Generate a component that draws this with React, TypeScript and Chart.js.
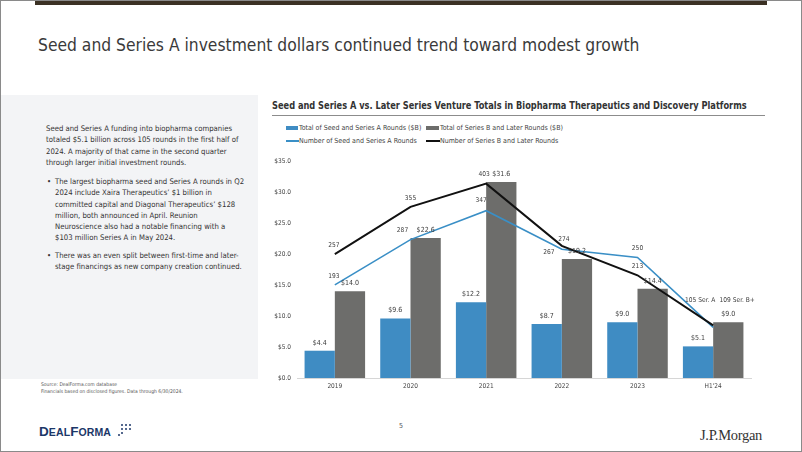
import React, { useEffect, useRef } from "react";
import { Chart, registerables } from "chart.js";

Chart.register(...registerables);

// ---------- data ----------
const categories = ["2019", "2020", "2021", "2022", "2023", "H1'24"];
const seedDollars = [4.4, 9.6, 12.2, 8.7, 9.0, 5.1];
const laterDollars = [14.0, 22.6, 31.6, 19.2, 14.4, 9.0];
const seedRounds = [193, 287, 347, 267, 250, 105];
const laterRounds = [257, 355, 403, 274, 213, 109];
const seedLastSuffix = " Ser. A";
const laterLastSuffix = " Ser. B+";
const dollarAxisMax = 35;
const dollarAxisStep = 5;
const roundsAxisMax = 450;

const seriesNames = [
  "Total of Seed and Series A Rounds ($B)",
  "Total of Series B and Later Rounds ($B)",
  "Number of Seed and Series A Rounds",
  "Number of Series B and Later Rounds",
];

const BLUE = "#3f8cc3";
const GRAY = "#6d6d6b";
const LINE_BLUE = "#3a8fc6";
const BLACK = "#111111";
const NARROW = '"Liberation Sans Narrow", "DejaVu Sans Condensed", "Arial Narrow", sans-serif';

const valueLabels = {
  id: "valueLabels",
  afterDatasetsDraw(chart: any, _args: any, opts: any) {
    const ctx = chart.ctx;
    ctx.save();
    ctx.fillStyle = "#3c3c3c";
    ctx.textAlign = "center";
    ctx.textBaseline = "middle";
    chart.data.datasets.forEach((ds: any, i: number) => {
      const meta = chart.getDatasetMeta(i);
      const n = ds.data.length;
      meta.data.forEach((el: any, j: number) => {
        const v = ds.data[j];
        if (ds.type === "bar") {
          ctx.font = `7px ${NARROW}`;
          ctx.fillText("$" + Number(v).toFixed(1), el.x, el.y - 8);
        } else {
          ctx.font = `6.6px ${NARROW}`;
          const off = (opts.offsets[i] || [])[j] || [0, -9];
          const txt = String(v) + (j === n - 1 ? ds.lastSuffix || "" : "");
          ctx.fillText(txt, el.x + off[0], el.y + off[1]);
        }
      });
    });
    ctx.restore();
  },
};

function ChartCanvas() {
  const ref = useRef<HTMLCanvasElement | null>(null);
  useEffect(() => {
    if (!ref.current) return;
    const chart = new Chart(ref.current, {
      type: "bar",
      data: {
        labels: categories,
        datasets: [
          {
            type: "bar",
            label: seriesNames[0],
            data: seedDollars,
            backgroundColor: BLUE,
            yAxisID: "y",
            order: 2,
            barPercentage: 1,
            categoryPercentage: 0.8,
          } as any,
          {
            type: "bar",
            label: seriesNames[1],
            data: laterDollars,
            backgroundColor: GRAY,
            yAxisID: "y",
            order: 2,
            barPercentage: 1,
            categoryPercentage: 0.8,
          } as any,
          {
            type: "line",
            label: seriesNames[2],
            data: seedRounds,
            borderColor: LINE_BLUE,
            borderWidth: 1.6,
            pointRadius: 0,
            tension: 0,
            yAxisID: "y2",
            order: 1,
            lastSuffix: seedLastSuffix,
          } as any,
          {
            type: "line",
            label: seriesNames[3],
            data: laterRounds,
            borderColor: BLACK,
            borderWidth: 2,
            pointRadius: 0,
            tension: 0,
            yAxisID: "y2",
            order: 0,
            lastSuffix: laterLastSuffix,
          } as any,
        ],
      },
      options: {
        animation: false,
        responsive: false,
        devicePixelRatio: 1,
        layout: { padding: { top: 10, right: 12, left: 0, bottom: 0 } },
        plugins: {
          legend: { display: false },
          tooltip: { enabled: false },
          valueLabels: {
            offsets: {
              2: [[-1, -9], [-8, -9], [-5, -10], [-13, 3], [0, -9], [-13, -27]],
              3: [[-1, -9], [0, -9], [-2, -9], [2, -7], [0, -9], [24, -25]],
            },
          },
        } as any,
        scales: {
          x: {
            grid: { display: false, drawTicks: false },
            border: { display: true, color: "#d6d6d6", width: 1 },
            ticks: { font: { size: 6.5, family: NARROW }, color: "#444", padding: 4 },
            afterFit: (s: any) => {
              s.height = 15;
            },
          },
          y: {
            min: 0,
            max: dollarAxisMax,
            grid: { display: false, drawTicks: false },
            border: { display: false },
            ticks: {
              stepSize: dollarAxisStep,
              font: { size: 6.5, family: NARROW },
              color: "#444",
              padding: 6,
              callback: (v: any) => "$" + Number(v).toFixed(1),
            },
            afterFit: (s: any) => {
              s.width = 34;
            },
          },
          y2: {
            min: 0,
            max: roundsAxisMax,
            display: false,
            position: "right",
          },
        },
      },
      plugins: [valueLabels],
    });
    return () => chart.destroy();
  }, []);
  return (
    <canvas
      ref={ref}
      width={500}
      height={242}
      style={{ position: "absolute", left: 262, top: 150, width: 500, height: 242 }}
    />
  );
}

const abs = (s: React.CSSProperties): React.CSSProperties => ({ position: "absolute", ...s });

export default function App() {
  const panelFont: React.CSSProperties = {
    fontFamily: NARROW,
    fontSize: 7.7,
    color: "#333",
    whiteSpace: "nowrap",
    lineHeight: "11.3px",
  };
  const para = [
    "Seed and Series A funding into biopharma companies",
    "totaled $5.1 billion across 105 rounds in the first half of",
    "2024. A majority of that came in the second quarter",
    "through larger initial investment rounds.",
  ];
  const b1 = [
    "The largest biopharma seed and Series A rounds in Q2",
    "2024 include Xaira Therapeutics\u2019 $1 billion in",
    "committed capital and Diagonal Therapeutics\u2019 $128",
    "million, both announced in April. Reunion",
    "Neuroscience also had a notable financing with a",
    "$103 million Series A in May 2024.",
  ];
  const b2 = [
    "There was an even split between first-time and later-",
    "stage financings as new company creation continued.",
  ];
  const legendText: React.CSSProperties = {
    fontFamily: NARROW,
    fontSize: 7,
    color: "#444",
    whiteSpace: "nowrap",
    lineHeight: "8px",
  };
  const dots = [
    [118, 434], [121, 424], [121, 428], [121, 432], [125, 424], [125, 428], [129, 424], [129, 428],
  ];
  return (
    <div
      style={{
        position: "fixed",
        left: 0,
        top: 0,
        width: 802,
        height: 452,
        background: "#fff",
        boxSizing: "border-box",
        border: "1px solid #8a8a8a",
        overflow: "hidden",
      }}
    >
      <div style={abs({ left: 34, top: -1, width: 732, height: 5, background: "#3b3124" })} />
      <div
        style={abs({
          left: 37,
          top: 32,
          fontFamily: NARROW,
          fontSize: 18.5,
          color: "#3a3a3a",
          whiteSpace: "nowrap",
          lineHeight: "24px",
          transform: "scaleX(0.935)",
          transformOrigin: "left top",
        })}
      >
        Seed and Series A investment dollars continued trend toward modest growth
      </div>

      {/* left panel */}
      <div style={abs({ left: -1, top: 94, width: 258, height: 284, background: "#f3f4f6" })} />
      <div style={abs({ left: 45, top: 122, ...panelFont })}>
        {para.map((t, i) => (
          <div key={i}>{t}</div>
        ))}
      </div>
      <div style={abs({ left: 46, top: 175, ...panelFont })}>
        {b1.map((t, i) => (
          <div key={i} style={{ paddingLeft: 8, position: "relative" }}>
            {i === 0 ? <span style={{ position: "absolute", left: 0 }}>•</span> : null}
            {t}
          </div>
        ))}
      </div>
      <div style={abs({ left: 46, top: 249, ...panelFont })}>
        {b2.map((t, i) => (
          <div key={i} style={{ paddingLeft: 8, position: "relative" }}>
            {i === 0 ? <span style={{ position: "absolute", left: 0 }}>•</span> : null}
            {t}
          </div>
        ))}
      </div>

      {/* chart title */}
      <div
        style={abs({
          left: 271,
          top: 98,
          fontFamily: NARROW,
          fontWeight: "bold",
          fontSize: 10.2,
          color: "#333",
          whiteSpace: "nowrap",
          lineHeight: "13px",
          transform: "scaleX(0.9)",
          transformOrigin: "left top",
        })}
      >
        Seed and Series A vs. Later Series Venture Totals in Biopharma Therapeutics and Discovery Platforms
      </div>
      <div style={abs({ left: 271, top: 114, width: 493, height: 1, background: "#8c8c8c" })} />

      {/* legend */}
      <div style={abs({ left: 285, top: 125, width: 12, height: 4, background: BLUE })} />
      <div style={abs({ left: 298, top: 123, ...legendText })}>{seriesNames[0]}</div>
      <div style={abs({ left: 425, top: 125, width: 13, height: 4, background: GRAY })} />
      <div style={abs({ left: 439, top: 123, ...legendText })}>{seriesNames[1]}</div>
      <div style={abs({ left: 285, top: 139, width: 13, height: 2, background: LINE_BLUE })} />
      <div style={abs({ left: 298, top: 136, ...legendText })}>{seriesNames[2]}</div>
      <div style={abs({ left: 425, top: 139, width: 14, height: 2, background: BLACK })} />
      <div style={abs({ left: 439, top: 136, ...legendText })}>{seriesNames[3]}</div>

      <ChartCanvas />

      {/* footer */}
      <div
        style={abs({
          left: 40,
          top: 380,
          fontFamily: NARROW,
          fontSize: 5,
          color: "#555",
          whiteSpace: "nowrap",
          lineHeight: "7px",
        })}
      >
        <div>Source: DealForma.com database</div>
        <div>Financials based on disclosed figures. Data through 6/30/2024.</div>
      </div>
      <div
        style={abs({
          left: 38,
          top: 423,
          fontFamily: '"Liberation Sans", Arial, sans-serif',
          fontWeight: "bold",
          color: "#1c3768",
          whiteSpace: "nowrap",
          lineHeight: "14px",
          letterSpacing: 0.1,
        })}
      >
        <span style={{ fontSize: 13.5 }}>D</span>
        <span style={{ fontSize: 10.5 }}>EAL</span>
        <span style={{ fontSize: 13.5 }}>F</span>
        <span style={{ fontSize: 10.5 }}>ORMA</span>
      </div>
      {dots.map((d, i) => (
        <div
          key={i}
          style={abs({
            left: d[0] - 1,
            top: d[1] - 1,
            width: 2.4,
            height: 2.4,
            borderRadius: 2,
            background: "#1c3768",
          })}
        />
      ))}
      <div
        style={abs({
          left: 398,
          top: 421,
          fontFamily: NARROW,
          fontSize: 7,
          color: "#555",
          lineHeight: "9px",
        })}
      >
        5
      </div>
      <div
        style={abs({
          left: 699,
          top: 425,
          fontFamily: '"Liberation Serif", "DejaVu Serif", serif',
          fontSize: 14.5,
          color: "#333",
          whiteSpace: "nowrap",
          lineHeight: "18px",
          letterSpacing: -0.3,
        })}
      >
        J.P.Morgan
      </div>
    </div>
  );
}
